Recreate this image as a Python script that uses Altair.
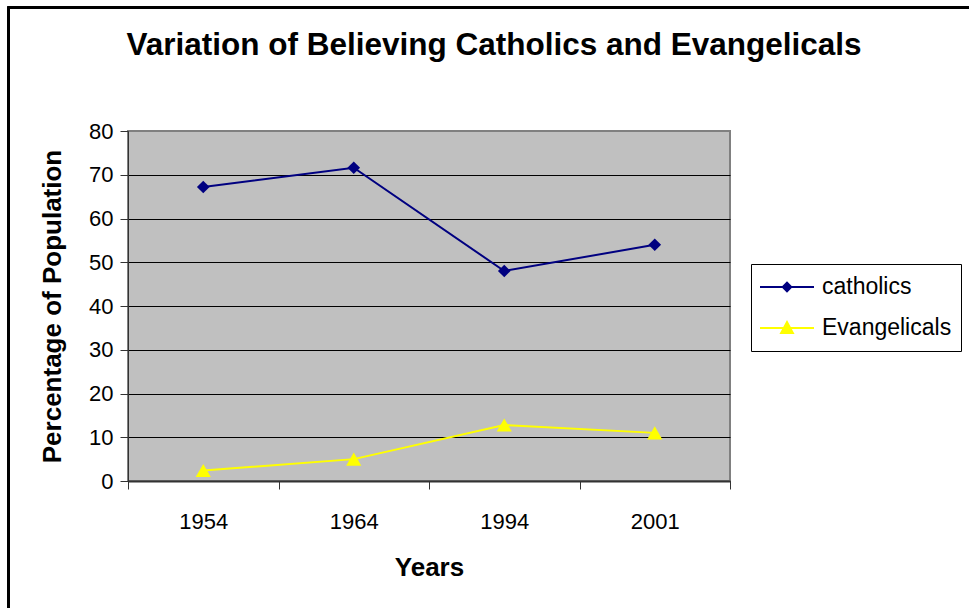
import altair as alt
import pandas as pd

# Survey years and share of the population (%) for each group
years = ["1954", "1964", "1994", "2001"]
catholics = [67.2, 71.6, 48.0, 54.0]
evangelicals = [2.4, 5.0, 12.8, 11.0]

series = ["catholics", "Evangelicals"]
colors = ["#000080", "#FFFF00"]
markers = ["diamond", "triangle-up"]
marker_sizes = [160, 230]
# legend keys: a short bar with the series marker on it (filled outlines)
legend_paths = [
    "M-1,-0.037H1V0.037H-1ZM0,-0.21L0.21,0L0,0.21L-0.21,0Z",
    "M-1,-0.037H1V0.037H-1ZM0,-0.3L0.28,0.22L-0.28,0.22Z",
]

rows = []
for name, values in zip(series, [catholics, evangelicals]):
    for yr, v in zip(years, values):
        rows.append({"series": name, "year": yr, "value": v})
df = pd.DataFrame(rows)

FONT = "Liberation Sans"
W, H = 602, 350

x_enc = alt.X(
    "year:O",
    sort=years,
    scale=alt.Scale(type="band", domain=years, paddingInner=0, paddingOuter=0),
    axis=alt.Axis(
        tickBand="extent",
        labelAngle=0,
        labelAlign="center",
        labelBaseline="middle",
        labelPadding=32,
        labelFontSize=22,
        labelFont=FONT,
        labelColor="black",
        tickSize=8,
        tickColor="#333333",
        domainColor="#333333",
        domainWidth=2,
        grid=False,
        title="Years",
        titleFont=FONT,
        titleFontSize=26,
        titleFontWeight="bold",
        titleColor="black",
        titleBaseline="middle",
        titleY=86,
        titleX=W / 2,
    ),
)
y_enc = alt.Y(
    "value:Q",
    scale=alt.Scale(domain=[0, 80], nice=False),
    axis=alt.Axis(
        values=list(range(0, 81, 10)),
        labelFontSize=22,
        labelFont=FONT,
        labelColor="black",
        labelPadding=7,
        tickSize=8,
        tickColor="#333333",
        domainColor="#333333",
        grid=True,
        gridColor={"condition": {"test": "datum.value == 80", "value": "#808080"}, "value": "black"},
        gridWidth=1,
        title="Percentage of Population",
        titleFont=FONT,
        titleFontSize=26,
        titleFontWeight="bold",
        titleColor="black",
        titleAngle=-90,
        titleAlign="center",
        titleBaseline="middle",
        titleX=-76,
        titleY=H / 2,
    ),
)

base = alt.Chart(df)

# outer chart border
frame = base.mark_rect(filled=False, stroke="black", strokeWidth=2, clip=False).encode(
    x=alt.value(-119.5), x2=alt.value(900), y=alt.value(-123.5), y2=alt.value(600)
)

layers = [frame]
for name, col in zip(series, colors):
    layers.append(
        base.transform_filter(alt.datum.series == name)
        .mark_line(strokeWidth=2, color=col)
        .encode(x=x_enc, y=y_enc)
    )
for name, col, shp, sz in zip(series, colors, markers, marker_sizes):
    layers.append(
        base.transform_filter(alt.datum.series == name)
        .mark_point(filled=True, shape=shp, size=sz, color=col, opacity=1)
        .encode(x=x_enc, y=y_enc)
    )

leg = alt.Legend(
    title=None,
    orient="none",
    legendX=623,
    legendY=133,
    fillColor="white",
    strokeColor="black",
    padding=9,
    labelFont=FONT,
    labelFontSize=23,
    labelColor="black",
    labelOffset=8,
    symbolSize=2916,
    symbolOffset=0,
    symbolStrokeWidth=0,
    symbolOpacity=1,
    clipHeight=28,
    rowPadding=13,
)

# legend keys only; the marks themselves sit outside the drawing
legend_layer = base.mark_point(filled=True, opacity=1).encode(
    x=alt.value(-5000),
    y=alt.value(H / 2),
    color=alt.Color("series:N", scale=alt.Scale(domain=series, range=colors), legend=leg),
    shape=alt.Shape("series:N", scale=alt.Scale(domain=series, range=legend_paths), legend=leg),
)
layers.append(legend_layer)

chart = (
    alt.layer(*layers)
    .properties(
        width=W,
        height=H,
        autosize=alt.AutoSizeParams(type="none"),
        padding={"left": 128, "top": 131, "right": 239, "bottom": 127},
        background="white",
        title=alt.TitleParams(
            "Variation of Believing Catholics and Evangelicals",
            font=FONT,
            fontSize=31.5,
            fontWeight="bold",
            color="black",
            anchor="middle",
            frame="group",
            baseline="alphabetic",
            offset=0,
            dy=80,
            dx=65,
        ),
    )
    .configure_view(fill="#C0C0C0", stroke="#808080", strokeWidth=2)
)

chart.save("out.html", embed_options={"renderer": "svg", "actions": False})
